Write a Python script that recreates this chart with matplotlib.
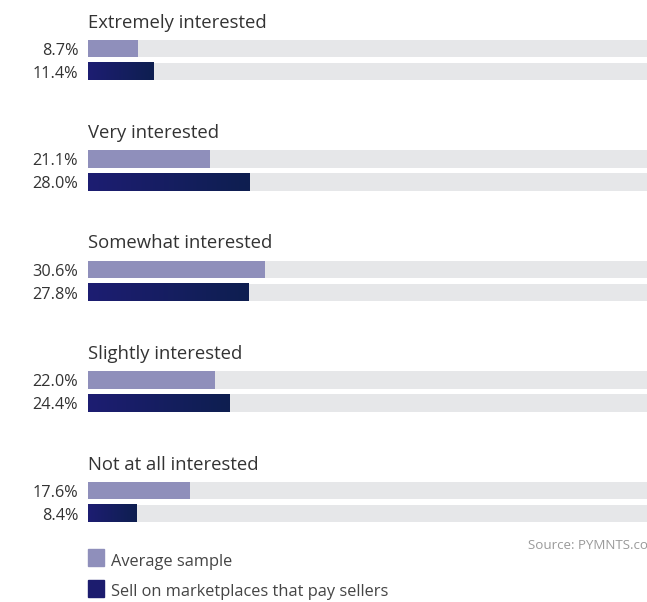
import matplotlib
matplotlib.use("Agg")
import matplotlib.pyplot as plt
import numpy as np
from matplotlib.colors import LinearSegmentedColormap

plt.rcParams['font.family'] = ['Open Sans', 'DejaVu Sans']

categories = ["Extremely interested", "Very interested", "Somewhat interested",
              "Slightly interested", "Not at all interested"]
average_sample = [8.7, 21.1, 30.6, 22.0, 17.6]
marketplace_sellers = [11.4, 28.0, 27.8, 24.4, 8.4]
series_names = ["Average sample", "Sell on marketplaces that pay sellers"]

light = "#8f8fbb"
dark = "#1c1c6e"
track = "#e6e7e9"
text_col = "#333333"
dark_grad = LinearSegmentedColormap.from_list("dk", ["#1d1d72", "#0e1f50"])

W, H = 647, 602
dpi = 100
fig = plt.figure(figsize=(W / dpi, H / dpi), dpi=dpi)
left_px = 88
px_per_pct = 5.78
ax = fig.add_axes([left_px / W, 0, (W - left_px) / W, 1])
ax.axis("off")

step = 110.5
bar_h = 17.5
grad = np.linspace(0, 1, 256).reshape(1, -1)

for i, cat in enumerate(categories):
    y_base = 27.5 + i * step
    y1 = 48.5 + i * step
    y2 = 71.5 + i * step
    ax.text(0, y_base, cat, fontsize=13.3, color=text_col, va="baseline", ha="left")
    # background tracks
    ax.barh([y1, y2], [100, 100], height=bar_h, color=track, linewidth=0)
    # average sample bar
    a = average_sample[i]
    ax.barh(y1, a, height=bar_h, color=light, linewidth=0)
    # marketplace bar with gradient fill
    m = marketplace_sellers[i]
    ax.imshow(grad, cmap=dark_grad, extent=(0, m, y2 + bar_h / 2, y2 - bar_h / 2),
              aspect="auto", interpolation="bilinear", zorder=3)
    for y, v in ((y1, a), (y2, m)):
        ax.text(-1.7, y + 6.3, f"{v:.1f}%", fontsize=11.7, color=text_col,
                va="baseline", ha="right", clip_on=False)

ax.set_xlim(0, (W - left_px) / px_per_pct)
ax.set_ylim(H, 0)

fig.text(528 / W, 1 - 549 / H, "Source: PYMNTS.com", fontsize=9.6,
         color="#9a9a9a", va="baseline", ha="left")

# legend
for k, (name, col) in enumerate(zip(series_names, [light, dark])):
    top = 549 + k * 31
    fig.patches.append(plt.Rectangle((88 / W, 1 - (top + 17) / H), 16 / W, 17 / H,
                                     transform=fig.transFigure, color=col, figure=fig))
    fig.text(111 / W, 1 - (top + 16.5) / H, name, fontsize=11.8, color="#444444",
             va="baseline", ha="left")

fig.savefig("out.png", dpi=dpi)
